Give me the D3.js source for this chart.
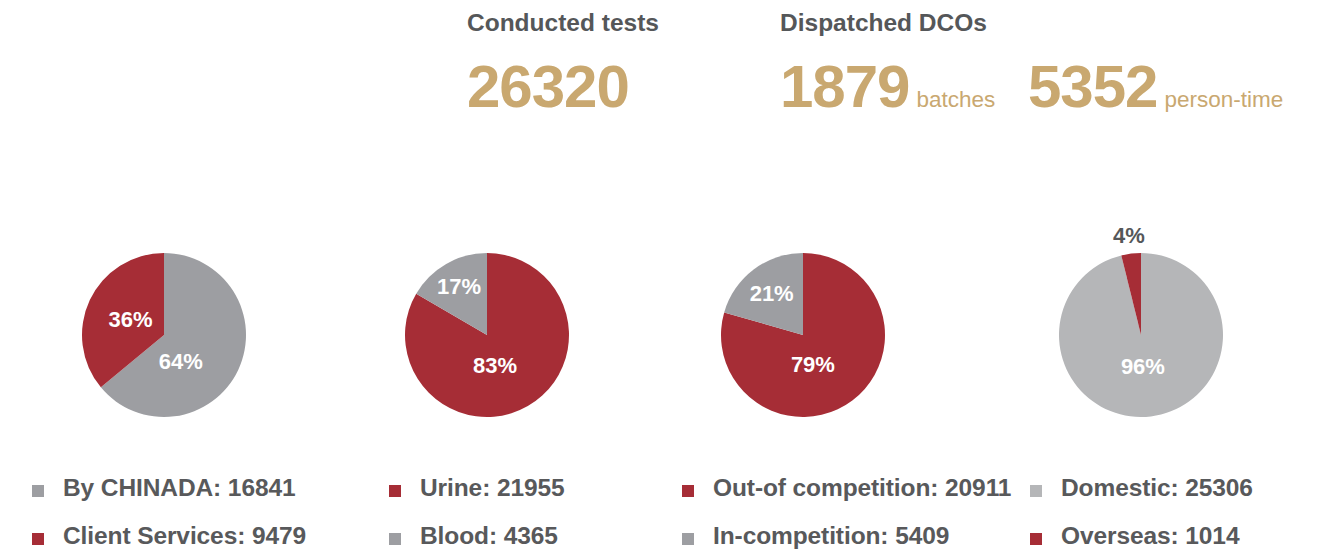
<!DOCTYPE html>
<html>
<head>
<meta charset="utf-8">
<script src="https://cdn.jsdelivr.net/npm/d3@7"></script>
<style>
  html, body { margin: 0; padding: 0; background: #ffffff; }
  svg { display: block; }
  text { font-family: "Liberation Sans", Arial, Helvetica, sans-serif; }
</style>
</head>
<body>
<svg id="chart" width="1322" height="555"></svg>
<script>
// ---------------- DATA ----------------
const headlineTitles = ["Conducted tests", "Dispatched DCOs"];
const headlineNumbers = [26320, 1879, 5352];
const headlineUnits = ["", "batches", "person-time"];

const pieCategories = [
  ["By CHINADA", "Client Services"],
  ["Urine", "Blood"],
  ["Out-of competition", "In-competition"],
  ["Domestic", "Overseas"]
];
const pieValues = [
  [16841, 9479],
  [21955, 4365],
  [20911, 5409],
  [25306, 1014]
];

// ---------------- STYLE / LAYOUT ----------------
const RED = "#a62d36", GRAY = "#9d9ea2", LGRAY = "#b5b6b8";
const GOLD = "#c9a870", DARK = "#58595b";
const sliceColors = [
  [GRAY, RED],
  [RED, GRAY],
  [RED, GRAY],
  [LGRAY, RED]
];
const pieCenterX = [164, 487, 803, 1141];
const pieCenterY = 335;
const pieRadius = 82;
const legendX = [32, 389, 682, 1030];
const legendRowY = [491, 539];

const svg = d3.select("#chart");

// ---------------- HEADLINES ----------------
const headerX = [467, 780];
svg.selectAll("text.title").data(headlineTitles).join("text")
  .attr("class", "title")
  .attr("x", (d, i) => headerX[i]).attr("y", 31)
  .attr("fill", "#555759").attr("font-size", 24.5).attr("font-weight", "bold")
  .text(d => d);

const numberX = [467, 780, 1028];
headlineNumbers.forEach((n, i) => {
  const t = svg.append("text")
    .attr("x", numberX[i]).attr("y", 107)
    .attr("fill", GOLD).attr("font-size", 60).attr("font-weight", "bold")
    .attr("letter-spacing", -1)
    .text(n);
  if (headlineUnits[i]) {
    const w = t.node().getComputedTextLength();
    svg.append("text")
      .attr("x", numberX[i] + w + 7).attr("y", 107)
      .attr("fill", GOLD).attr("font-size", 22.5)
      .text(headlineUnits[i]);
  }
});

// ---------------- PIES ----------------
const pie = d3.pie().sort(null).value(d => d);
const arc = d3.arc().innerRadius(0).outerRadius(pieRadius);

pieValues.forEach((vals, p) => {
  const g = svg.append("g").attr("transform", `translate(${pieCenterX[p]},${pieCenterY})`);
  const total = d3.sum(vals);
  const arcs = pie(vals);
  g.selectAll("path").data(arcs).join("path")
    .attr("d", arc)
    .attr("fill", (d, i) => sliceColors[p][i]);

  arcs.forEach((a, i) => {
    const share = a.value / total;
    const pct = Math.round(share * 100) + "%";
    let ang = (a.startAngle + a.endAngle) / 2;
    let k, color = "#ffffff";
    if (share >= 0.5) { k = 0.38; ang = (ang + Math.PI) / 2; }
    else if (share < 0.08) { k = 1.23; color = "#555759"; }
    else k = 0.45 + (0.36 - share) * 1.2;
    const rl = pieRadius * k;
    g.append("text")
      .attr("x", rl * Math.sin(ang))
      .attr("y", -rl * Math.cos(ang))
      .attr("dy", "0.36em")
      .attr("text-anchor", "middle")
      .attr("fill", color)
      .attr("font-size", 22).attr("font-weight", "bold")
      .text(pct);
  });
});

// ---------------- LEGENDS ----------------
pieCategories.forEach((cats, p) => {
  cats.forEach((c, i) => {
    const y = legendRowY[i];
    svg.append("rect")
      .attr("x", legendX[p]).attr("y", y - 6)
      .attr("width", 12).attr("height", 12)
      .attr("fill", sliceColors[p][i]);
    svg.append("text")
      .attr("x", legendX[p] + 31).attr("y", y + 5)
      .attr("fill", DARK).attr("font-size", 24.5).attr("font-weight", "bold")
      .attr("letter-spacing", -0.1)
      .text(`${c}: ${pieValues[p][i]}`);
  });
});
</script>
</body>
</html>
